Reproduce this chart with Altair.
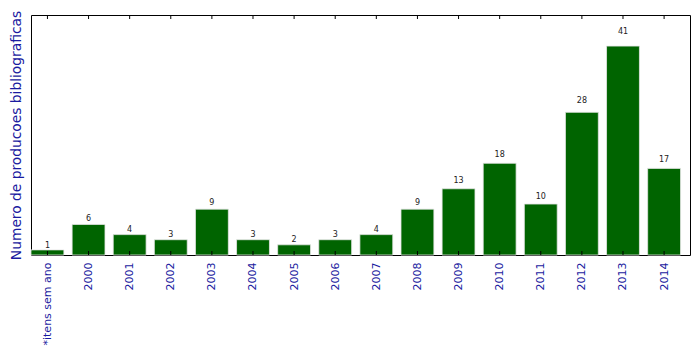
import altair as alt
import pandas as pd

categories = ['*itens sem ano', '2000', '2001', '2002', '2003', '2004', '2005', '2006',
              '2007', '2008', '2009', '2010', '2011', '2012', '2013', '2014']
values = [1, 6, 4, 3, 9, 3, 2, 3, 4, 9, 13, 18, 10, 28, 41, 17]

df = pd.DataFrame({"idx": list(range(len(categories))), "cat": categories, "value": values})

label_arr = "[" + ",".join("'" + c + "'" for c in categories) + "]"

xscale = alt.Scale(domain=[-0.4, 15.63], nice=False, zero=False)
yscale = alt.Scale(domain=[0, 47.1], nice=False)

base = alt.Chart(df).transform_calculate(
    x0="datum.idx - 0.4", x1="datum.idx + 0.4", ly="datum.value * 1.05"
)

bars = base.mark_bar(color="#006400", stroke="#e6e6e6", strokeWidth=0.8).encode(
    x=alt.X("x0:Q", scale=xscale,
            axis=alt.Axis(values=list(range(len(categories))), labelExpr=label_arr + "[datum.value]",
                          labelAngle=270, labelColor="#1a1aa0", labelFont="DejaVu Sans",
                          labelFontSize=11, ticks=False, domain=False, grid=False,
                          labelPadding=7, title=None)),
    x2="x1:Q",
    y=alt.Y("value:Q", scale=yscale,
            axis=alt.Axis(labels=False, ticks=False, domain=False, grid=False,
                          title="Numero de producoes bibliograficas", titleColor="#1a1aa0",
                          titleFont="DejaVu Sans", titleFontSize=13.8, titleFontWeight="normal",
                          titleX=-15, titleBaseline="middle")),
    y2=alt.datum(0),
)

text = base.mark_text(baseline="bottom", fontSize=8, font="DejaVu Sans", color="#222222").encode(
    x=alt.X("idx:Q", scale=xscale),
    y=alt.Y("ly:Q", scale=yscale),
    text="value:Q",
)

ticks_bottom = alt.Chart(df).mark_rule(color="black", strokeWidth=1).encode(
    x=alt.X("idx:Q", scale=xscale), y=alt.value(236), y2=alt.value(240)
)
ticks_top = alt.Chart(df).mark_rule(color="black", strokeWidth=1).encode(
    x=alt.X("idx:Q", scale=xscale), y=alt.value(0), y2=alt.value(4)
)

chart = alt.layer(bars, text, ticks_bottom, ticks_top).properties(
    width=659, height=240,
    autosize=alt.AutoSizeParams(type="none"),
    padding={"left": 31, "top": 15, "right": 9, "bottom": 99},
    background="white",
).configure_view(stroke="black", strokeWidth=1)

chart.save("out.html", embed_options={"renderer": "svg", "actions": False})
